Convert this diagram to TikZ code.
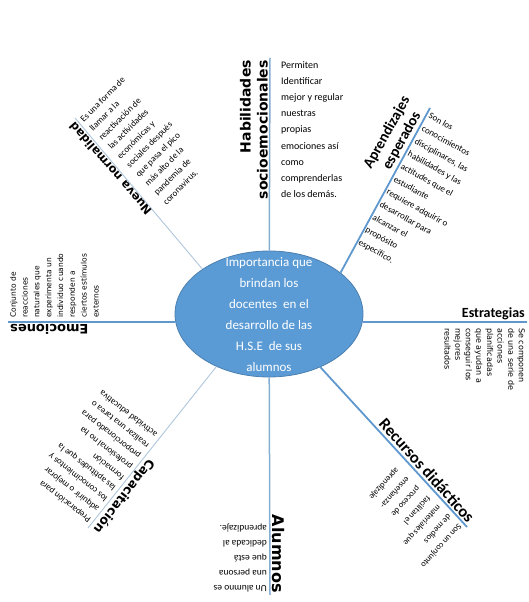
\documentclass[tikz,border=0pt]{standalone}
\usepackage{fontspec}
\setmainfont{Carlito}
\newfontfamily\dejavu{DejaVu Sans}
\usetikzlibrary{shapes.geometric}

\definecolor{azulelipse}{HTML}{5B9BD5}
\definecolor{bordeelipse}{HTML}{4A7FB0}
\definecolor{azullinea}{HTML}{5F98CE}
\definecolor{azulsuave}{HTML}{86AED3}
\definecolor{azulclaro}{HTML}{AFC6DC}

\tikzset{
  rama/.style={azullinea, line width=1.8pt},
  ramasuave/.style={azulsuave, line width=1.5pt},
  ramafina/.style={azulclaro, line width=0.9pt},
  titulo/.style={font=\bfseries\fontsize{15}{17}\selectfont, align=center, inner sep=2pt, anchor=south east},
  tituloD/.style={font=\dejavu\bfseries\fontsize{12}{16}\selectfont, align=center, inner sep=2pt, anchor=south east},
  desc/.style={font=\fontsize{9}{13.5}\selectfont, align=left, inner sep=3pt, anchor=north west},
  descD/.style={font=\dejavu\fontsize{8}{10.6}\selectfont, align=left, inner sep=3pt, anchor=north west},
}

\begin{document}
\begin{tikzpicture}[x=1pt,y=1pt]
    \useasboundingbox (0,0) rectangle (529,602);

    % --- Centro ---
    \node[ellipse, fill=azulelipse, draw=bordeelipse, line width=0.8pt,
          minimum width=188pt, minimum height=126pt, inner sep=0pt] (centro) at (269,288) {};
    \node[text=white, align=center, font=\fontsize{13}{21}\selectfont] (centroTxt) at (269,287)
         {Importancia que\\brindan los\\docentes \ en el\\desarrollo de las\\H.S.E \ de sus\\alumnos};

    % --- Habilidades socioemocionales (arriba) ---
    \coordinate (pHab) at (270,544);
    \draw[ramasuave] (centro) -- (pHab);
    \node[tituloD, align=right, font=\dejavu\bfseries\fontsize{14}{17}\selectfont, rotate=90] (tHab) at (pHab)
         {Habilidades\\socioemocionales};
    \node[desc, font=\fontsize{10}{16.2}\selectfont, xshift=8pt] (dHab) at (pHab)
         {Permiten\\Identificar\\mejor y regular\\nuestras\\propias\\emociones así\\como\\comprenderlas\\de los demás.};

    % --- Aprendizajes esperados ---
    \coordinate (pApr) at (430,494);
    \draw[rama] (centro.30) -- (pApr);
    \node[titulo, rotate=61] (tApr) at (pApr) {Aprendizajes\\esperados};
    \node[desc, font=\fontsize{9}{14.5}\selectfont, rotate=-29] (dApr) at (pApr)
         {Son los\\conocimientos\\disciplinares, las\\habilidades y las\\actitudes que el\\estudiante\\requiere adquirir o\\desarrollar para\\alcanzar el\\propósito\\específico.};

    % --- Estrategias (derecha) ---
    \coordinate (pEst) at (527,280);
    \draw[rama] (pEst -| centro.east) -- (pEst);
    \node[titulo, font=\bfseries\fontsize{14}{16}\selectfont, rotate=0] (tEst) at (pEst) {Estrategias};
    \node[descD, rotate=-90, inner ysep=2pt, inner xsep=6pt] (dEst) at (pEst)
         {Se componen\\de una serie de\\acciones\\planificadas\\que ayudan a\\conseguir los\\mejores\\resultados};

    % --- Recursos didacticos ---
    \coordinate (pRec) at (467,75);
    \draw[rama] (centro.-46) -- (pRec);
    \node[titulo, font=\bfseries\fontsize{16.5}{18}\selectfont, rotate=-48] (tRec) at (pRec) {Recursos didácticos};
    \node[desc, font=\fontsize{8.5}{14}\selectfont, rotate=-132] (dRec) at (pRec)
         {Son un conjunto\\de medios\\materiales que\\facilitan el\\proceso de\\enseñanza-\\aprendizaje};

    % --- Alumnos (abajo) ---
    \coordinate (pAlu) at (270,7);
    \draw[ramasuave] (centro) -- (pAlu);
    \node[tituloD, font=\dejavu\bfseries\fontsize{16}{18}\selectfont, rotate=-90] (tAlu) at (pAlu) {Alumnos};
    \node[desc, font=\fontsize{9.5}{15}\selectfont, rotate=180] (dAlu) at (pAlu)
         {Un alumno es\\una persona\\que está\\dedicada al\\aprendizaje.};

    % --- Capacitacion ---
    \coordinate (pCap) at (88,74);
    \draw[ramafina] (centro.-135) -- (pCap);
    \node[tituloD, font=\dejavu\bfseries\fontsize{12.5}{16}\selectfont, rotate=-128] (tCap) at (pCap) {Capacitación};
    \node[desc, rotate=142] (dCap) at (pCap)
         {Preparación para\\adquirir o mejorar\\los conocimientos y\\las aptitudes que la\\formación\\profesional no ha\\proporcionado para\\realizar una tarea o\\actividad educativa};

    % --- Emociones (izquierda) ---
    \coordinate (pEmo) at (8,280);
    \draw[rama] (pEmo -| centro.west) -- (pEmo);
    \node[tituloD, font=\dejavu\bfseries\fontsize{13}{16}\selectfont, rotate=180] (tEmo) at (pEmo) {Emociones};
    \node[descD, font=\dejavu\fontsize{7.5}{11.8}\selectfont, rotate=90, inner ysep=2pt, inner xsep=4pt] (dEmo) at (pEmo)
         {Conjunto de\\reacciones\\naturales que\\experimenta un\\individuo cuando\\responden a\\ciertos estímulos\\externos};

    % --- Nueva normalidad ---
    \coordinate (pNue) at (75,484);
    \draw[ramafina] (centro.146) -- (pNue);
    \node[tituloD, font=\dejavu\bfseries\fontsize{11.5}{14}\selectfont, rotate=131] (tNue) at (pNue) {Nueva normalidad};
    \node[desc, font=\fontsize{9}{13}\selectfont, rotate=45] (dNue) at (pNue)
         {Es una forma de\\llamar a la\\reactivación de\\las actividades\\económicas y\\sociales después\\que pasa el pico\\más alto de la\\pandemia de\\coronavirus.};

\end{tikzpicture}
\end{document}
